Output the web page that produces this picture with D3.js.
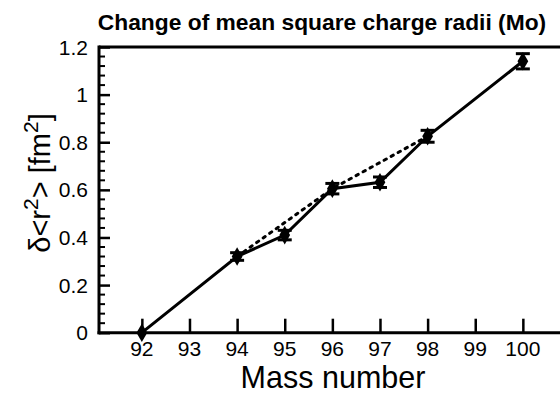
<!DOCTYPE html>
<html>
<head>
<meta charset="utf-8">
<script src="https://cdn.jsdelivr.net/npm/d3@7"></script>
<style>
  body { margin: 0; background: #fff; }
  svg text { font-family: Arial, "Liberation Sans", sans-serif; fill: #000; }
</style>
</head>
<body>
<svg id="chart" width="560" height="395"></svg>
<script>
// data
const massNumbers = [92, 94, 95, 96, 97, 98, 100];
const deltaR2 = [0, 0.32, 0.41, 0.605, 0.632, 0.825, 1.14];
const errors = [0, 0.016, 0.02, 0.022, 0.022, 0.025, 0.032];
// even-even interpolation (dotted)
const evenMass = [94, 96, 98];
const evenDelta = [0.32, 0.605, 0.825];
const xTicks = [92, 93, 94, 95, 96, 97, 98, 99, 100];
const yTicks = [0, 0.2, 0.4, 0.6, 0.8, 1, 1.2];

const margin = { left: 99, right: 0, top: 47, bottom: 62 };
const width = 560, height = 395;

const svg = d3.select('#chart');

const x = d3.scaleLinear()
    .domain([91.1, 100.78])
    .range([margin.left, width - margin.right]);

const y = d3.scaleLinear()
    .domain([0, 1.2])
    .range([height - margin.bottom - 0.3, margin.top]);

const points = massNumbers.map((m, i) => ({ m: m, v: deltaR2[i], e: errors[i] }));

// top frame line
svg.append('line')
    .attr('x1', x.range()[0]).attr('x2', width)
    .attr('y1', y(1.2)).attr('y2', y(1.2))
    .style('stroke', '#000').style('stroke-width', 3)

// y minor ticks (inward)
const yMinor = d3.range(0, 61).map(i => i * 0.02).filter((v, i) => i % 2 === 0 && i % 10 !== 0);
svg.selectAll('.yminor')
    .data(yMinor)
    .join('line')
    .attr('class', 'yminor')
    .attr('x1', x.range()[0]).attr('x2', x.range()[0] + 6)
    .attr('y1', d => y(d)).attr('y2', d => y(d))
    .style('stroke', '#000').style('stroke-width', 2)

// y axis
svg.append('g')
    .attr('transform', `translate(${x.range()[0]},0)`)
    .call(d3.axisRight(y).tickValues(yTicks).tickSize(11).tickFormat(''))
    .call(g => g.select('.domain').remove())
    .call(g => g.selectAll('.tick line').style('stroke', '#000').style('stroke-width', 2.5))

svg.append('line')
    .attr('x1', x.range()[0]).attr('x2', x.range()[0])
    .attr('y1', y(1.2) - 1.5).attr('y2', y(0) + 1.5)
    .style('stroke', '#000').style('stroke-width', 3)

svg.selectAll('.ylabel')
    .data(yTicks)
    .join('text')
    .attr('class', 'ylabel')
    .attr('x', x.range()[0] - 11)
    .attr('y', d => y(d) + 7.5)
    .attr('text-anchor', 'end')
    .style('font-size', '21px')
    .text(d => d3.format('~g')(d))

// x axis ticks (inward, upward)
svg.append('g')
    .attr('transform', `translate(0,${y(0)})`)
    .call(d3.axisTop(x).tickValues(xTicks).tickSize(14).tickFormat(''))
    .call(g => g.select('.domain').remove())
    .call(g => g.selectAll('.tick line').style('stroke', '#000').style('stroke-width', 2.5))

svg.append('line')
    .attr('x1', x.range()[0] - 1.5).attr('x2', width)
    .attr('y1', y(0)).attr('y2', y(0))
    .style('stroke', '#000').style('stroke-width', 3)

svg.selectAll('.xlabel')
    .data(xTicks)
    .join('text')
    .attr('class', 'xlabel')
    .attr('x', d => x(d))
    .attr('y', 355.5)
    .attr('text-anchor', 'middle')
    .style('font-size', '21px')
    .text(d => d)

// dotted even-even line
svg.append('path')
    .datum(evenMass.map((m, i) => [m, evenDelta[i]]))
    .attr('d', d3.line().x(d => x(d[0])).y(d => y(d[1])))
    .style('fill', 'none')
    .style('stroke', '#000')
    .style('stroke-width', 3)
    .style('stroke-dasharray', '2.5,5.5')
    .style('stroke-linecap', 'round')

// solid data line
svg.append('path')
    .datum(points)
    .attr('d', d3.line().x(d => x(d.m)).y(d => y(d.v)))
    .style('fill', 'none')
    .style('stroke', '#000')
    .style('stroke-width', 3)

// error bars
const bars = svg.selectAll('.err')
    .data(points.filter(d => d.e > 0))
    .join('g')
    .attr('class', 'err')

bars.append('line')
    .attr('x1', d => x(d.m)).attr('x2', d => x(d.m))
    .attr('y1', d => y(d.v - d.e)).attr('y2', d => y(d.v + d.e))
    .style('stroke', '#000').style('stroke-width', 2.5)

bars.selectAll('.cap')
    .data(d => [d.v - d.e, d.v + d.e].map(v => ({ m: d.m, v: v })))
    .join('line')
    .attr('class', 'cap')
    .attr('x1', d => x(d.m) - 7).attr('x2', d => x(d.m) + 7)
    .attr('y1', d => y(d.v)).attr('y2', d => y(d.v))
    .style('stroke', '#000').style('stroke-width', 3)

// diamond markers
svg.selectAll('.marker')
    .data(points)
    .join('path')
    .attr('class', 'marker')
    .attr('d', d3.symbol().type(d3.symbolDiamond).size(100))
    .attr('transform', d => `translate(${x(d.m)},${y(d.v)})`)
    .style('fill', '#000')

// title
svg.append('text')
    .attr('x', 322)
    .attr('y', 30)
    .attr('text-anchor', 'middle')
    .style('font-size', '22.8px')
    .style('font-weight', 'bold')
    .text('Change of mean square charge radii (Mo)')

// axis titles
svg.append('text')
    .attr('x', 333)
    .attr('y', 388)
    .attr('text-anchor', 'middle')
    .style('font-size', '30.5px')
    .text('Mass number')

const yTitle = svg.append('text')
    .attr('transform', `translate(50,183) rotate(-90)`)
    .attr('text-anchor', 'middle')
    .style('font-size', '29px')

yTitle.append('tspan').text('δ<r')
yTitle.append('tspan').attr('dy', -12).style('font-size', '21px').text('2')
yTitle.append('tspan').attr('dy', 12).text('> [fm')
yTitle.append('tspan').attr('dy', -12).style('font-size', '21px').text('2')
yTitle.append('tspan').attr('dy', 12).text(']')
</script>
</body>
</html>
